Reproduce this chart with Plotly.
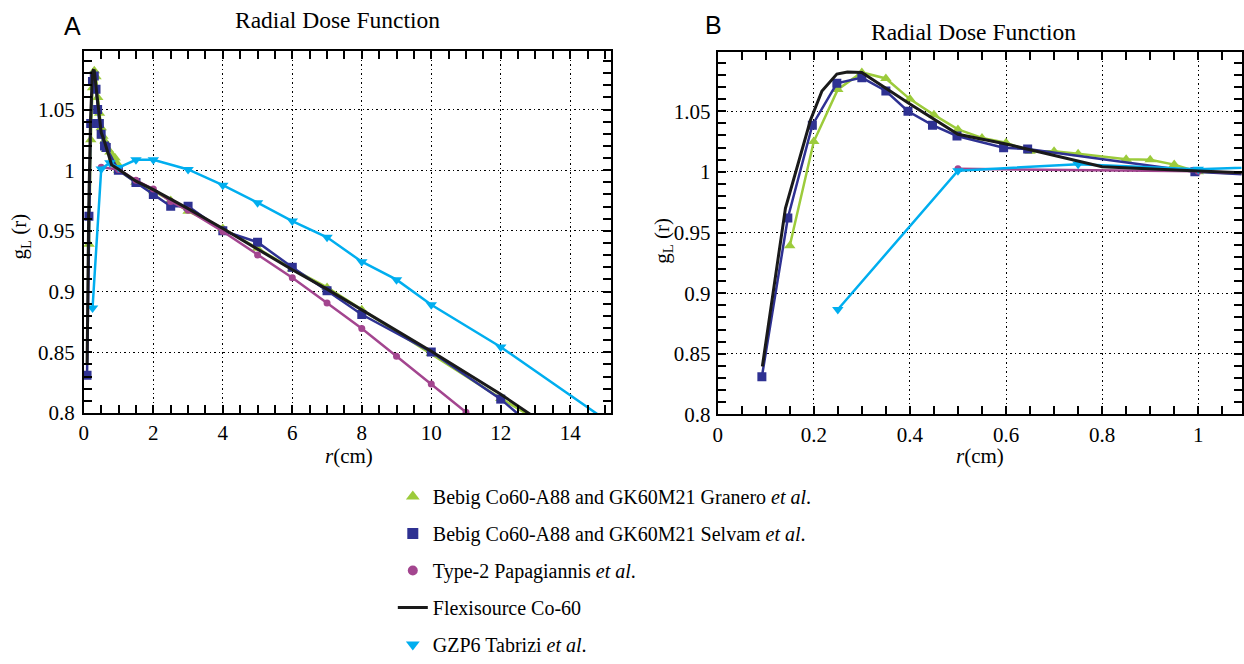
import plotly.graph_objects as go

# ---------------- data ----------------
r_granero = [0.15, 0.2, 0.25, 0.3, 0.35, 0.4, 0.45, 0.5, 0.55, 0.6, 0.65, 0.7, 0.75,
             0.85, 0.9, 0.95, 1.0, 1.5, 2, 2.5, 3, 4, 5, 6, 7, 8, 10, 12, 15]
g_granero = [0.939, 1.025, 1.068, 1.082, 1.077, 1.06, 1.047, 1.035, 1.028, 1.024, 1.017, 1.017, 1.015,
             1.0105, 1.01, 1.006, 1.0, 0.99, 0.983, 0.975, 0.9662, 0.952, 0.9356, 0.9187, 0.9034, 0.8851,
             0.8489, 0.812, 0.761]

r_selvam = [0.092, 0.146, 0.197, 0.248, 0.3, 0.35, 0.396, 0.447, 0.498, 0.595, 0.645, 0.993,
            1.5, 2, 2.5, 3, 4, 5, 6, 7, 8, 10, 12, 15]
g_selvam = [0.831, 0.962, 1.0385, 1.073, 1.0777, 1.0667, 1.05, 1.0385, 1.0296, 1.0199, 1.0188, 1.0,
            0.9898, 0.9799, 0.9702, 0.9702, 0.9501, 0.9407, 0.92, 0.9007, 0.8811, 0.8502, 0.8114, 0.7375]

r_papa = [0.5, 1.0, 1.5, 2, 2.5, 3, 4, 5, 6, 7, 8, 9, 10, 11]
g_papa = [1.0025, 1.0006, 0.9917, 0.9845, 0.9742, 0.967, 0.9495, 0.9302, 0.9114, 0.8905, 0.8696,
          0.8468, 0.8239, 0.8006]

r_flexi = [0.093, 0.141, 0.193, 0.217, 0.248, 0.27, 0.30, 0.4, 0.5, 0.6, 0.65, 0.75, 0.8, 1.0,
           1.5, 2, 3, 4, 5, 6, 7, 8, 10, 12, 15]
g_flexi = [0.8395, 0.970, 1.0425, 1.0667, 1.0806, 1.0823, 1.082, 1.056, 1.031, 1.023, 1.0183, 1.0089,
           1.0043, 1.0008, 0.991, 0.984, 0.9684, 0.952, 0.935, 0.918, 0.902, 0.8851, 0.8508, 0.8154, 0.757]

r_tabrizi = [0.25, 0.5, 0.75, 1.0, 1.5, 2, 3, 4, 5, 6, 7, 8, 9, 10, 12, 15]
g_tabrizi = [0.8865, 1.001, 1.0062, 1.0022, 1.0086, 1.0086, 1.0006, 0.9877, 0.9732, 0.9581, 0.9447,
             0.9246, 0.9098, 0.8891, 0.8543, 0.7947]

names = ["Bebig Co60-A88 and GK60M21 Granero <i>et al</i>.",
         "Bebig Co60-A88 and GK60M21 Selvam <i>et al</i>.",
         "Type-2 Papagiannis <i>et al</i>.",
         "Flexisource Co-60",
         "GZP6 Tabrizi <i>et al</i>."]

x_ticks_a = [0, 2, 4, 6, 8, 10, 12, 14]
x_ticks_b = [0, 0.2, 0.4, 0.6, 0.8, 1.0]
x_ticktext_b = ["0", "0.2", "0.4", "0.6", "0.8", "1"]
y_ticks = [0.8, 0.85, 0.9, 0.95, 1.0, 1.05]
y_ticktext = ["0.8", "0.85", "0.9", "0.95", "1", "1.05"]

# ---------------- styling ----------------
GREEN = "#9ccb3b"
NAVY = "#2e3192"
PURPLE = "#a3458f"
CYAN = "#00aeef"
BLACK = "#1a1a1a"
SERIF = "Liberation Serif"
W, H = 1244, 664

series = [
    (r_granero, g_granero, GREEN, "triangle-up", 10, 2.5),
    (r_selvam, g_selvam, NAVY, "square", 9, 2.5),
    (r_papa, g_papa, PURPLE, "circle", 7, 2.5),
    (r_tabrizi, g_tabrizi, CYAN, "triangle-down", 10, 2.5),
    (r_flexi, g_flexi, BLACK, None, 0, 3),
]

fig = go.Figure()
for xa, ya in [("x", "y"), ("x2", "y2")]:
    for r, g, col, sym, size, lw in series:
        if sym is None:
            fig.add_trace(go.Scatter(x=r, y=g, xaxis=xa, yaxis=ya, mode="lines",
                                     line=dict(color=col, width=lw), showlegend=False,
                                     hoverinfo="skip"))
        else:
            fig.add_trace(go.Scatter(x=r, y=g, xaxis=xa, yaxis=ya, mode="lines+markers",
                                     line=dict(color=col, width=lw),
                                     marker=dict(symbol=sym, size=size, color=col),
                                     showlegend=False, hoverinfo="skip"))

# legend entries (marker-only symbols as in the reference)
legend_specs = [
    (names[0], "markers", GREEN, "triangle-up", 12),
    (names[1], "markers", NAVY, "square", 11),
    (names[2], "markers", PURPLE, "circle", 10),
    (names[3], "lines", BLACK, None, 0),
    (names[4], "markers", CYAN, "triangle-down", 12),
]
for i, (nm, mode, col, sym, size) in enumerate(legend_specs):
    kw = dict(x=[None], y=[None], name=nm, mode=mode, legendgroup=f"g{i}", showlegend=True)
    if mode == "lines":
        kw["line"] = dict(color=col, width=3)
    else:
        kw["marker"] = dict(symbol=sym, size=size, color=col)
    fig.add_trace(go.Scatter(**kw))

axis_common = dict(
    showline=True, linecolor="black", linewidth=2, mirror="ticks",
    ticks="inside", ticklen=8, tickwidth=1.5, tickcolor="black",
    showgrid=True, gridcolor="black", griddash="1.5px,3px", gridwidth=1,
    zeroline=False, tickfont=dict(family=SERIF, size=21, color="black"),
)
minor_common = dict(ticks="inside", ticklen=8, tickwidth=1.5, tickcolor="black", showgrid=False)

fig.update_layout(
    width=W, height=H,
    margin=dict(l=0, r=0, t=0, b=0),
    paper_bgcolor="white", plot_bgcolor="white",
    font=dict(family=SERIF, color="black"),
    xaxis=dict(domain=[79.3 / W, 609.3 / W], range=[0, 15.17], tickvals=x_ticks_a,
               minor=dict(dtick=0.5, tick0=0, **minor_common), anchor="y", **axis_common),
    yaxis=dict(domain=[1 - 422.5 / H, 1 - 51.7 / H], range=[0.8, 1.0986], tickvals=y_ticks,
               ticktext=y_ticktext, minor=dict(dtick=0.01, tick0=0.8, **minor_common),
               anchor="x", ticklabelstandoff=3, **axis_common),
    xaxis2=dict(domain=[716.7 / W, 1243.5 / W], range=[0, 1.09], tickvals=x_ticks_b,
                ticktext=x_ticktext_b, minor=dict(dtick=0.05, tick0=0, **minor_common),
                anchor="y2", **axis_common),
    yaxis2=dict(domain=[1 - 424 / H, 1 - 53 / H], range=[0.8, 1.099], tickvals=y_ticks,
                ticktext=y_ticktext, minor=dict(dtick=0.01, tick0=0.8, **minor_common),
                anchor="x2", ticklabelstandoff=1, **axis_common),
    legend=dict(x=390 / W, y=1 - 488 / H, xanchor="left", yanchor="top",
                font=dict(family=SERIF, size=20, color="black"),
                bgcolor="rgba(0,0,0,0)", tracegroupgap=8, borderwidth=0),
    showlegend=True,
)

def ann(text, x, y, size, family=SERIF, angle=0):
    fig.add_annotation(text=text, x=x / W, y=1 - y / H, xref="paper", yref="paper",
                       showarrow=False, xanchor="center", yanchor="middle", textangle=angle,
                       font=dict(family=family, size=size, color="black"))

ann("Radial Dose Function", 334.5, 20, 23.5)
ann("Radial Dose Function", 973.5, 33, 23.5)
ann("A", 68, 27, 25, family="Liberation Sans")
ann("B", 713, 26, 25, family="Liberation Sans")
ann("<i>r</i>(cm)", 346, 467, 21)
ann("<i>r</i>(cm)", 981, 467, 21)
ann("g<sub>L</sub> (r)", 15, 242, 21, angle=-90)
ann("g<sub>L</sub> (r)", 662, 246, 21, angle=-90)

fig.write_html("out.html", config={"displayModeBar": False},
               post_script="document.body.style.margin='0px';")
